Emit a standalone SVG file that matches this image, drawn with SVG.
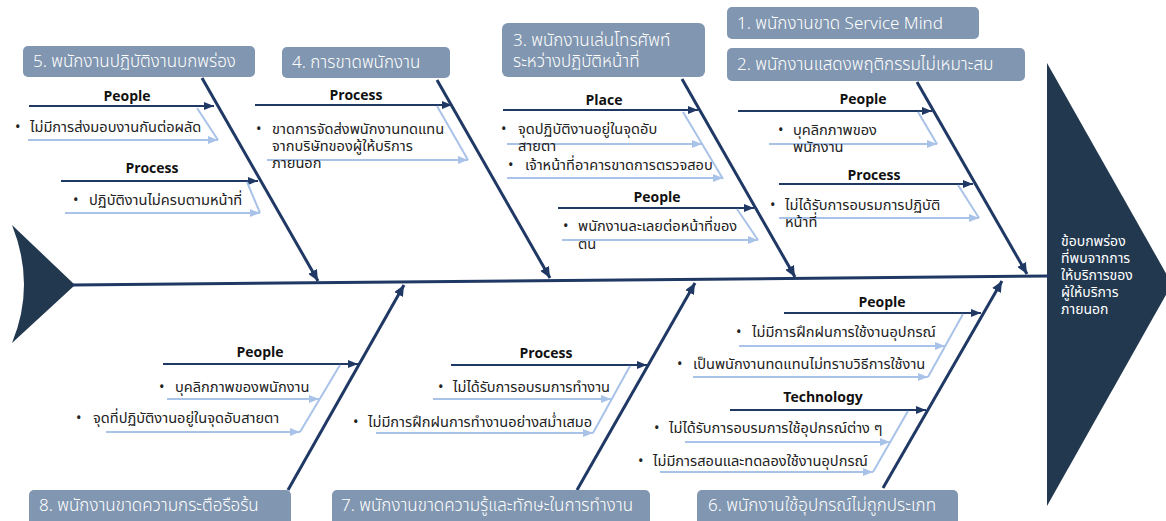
<svg xmlns="http://www.w3.org/2000/svg" width="1166" height="521" viewBox="0 0 1166 521">
<style>
text{font-family:"Noto Sans Thai","Noto Sans","Liberation Sans",sans-serif}
.box{fill:#8196B0}
.bt{fill:#fff;font-size:17px;font-weight:300}
.lab{font-size:14px;font-weight:bold;fill:#111;text-anchor:middle}
.tx{font-size:14.6px;fill:#222}
.ht{font-size:14px;fill:#fff}
.bone{stroke:#1F3864;stroke-width:3;fill:none;marker-end:url(#ab)}
.sub{stroke:#1F3864;stroke-width:2;fill:none;marker-end:url(#as)}
.lt{stroke:#A9C3E8;stroke-width:2;fill:none}
.la{stroke:#A9C3E8;stroke-width:2;fill:none;marker-end:url(#al)}
.dark{fill:#22384F}
</style>
<defs>
<marker id="ab" markerUnits="userSpaceOnUse" markerWidth="12" markerHeight="10" refX="11" refY="5" orient="auto"><path d="M0,0 L11,5 L0,10 z" fill="#1F3864"/></marker>
<marker id="as" markerUnits="userSpaceOnUse" markerWidth="11" markerHeight="8" refX="10" refY="4" orient="auto"><path d="M0,0 L10,4 L0,8 z" fill="#1F3864"/></marker>
<marker id="al" markerUnits="userSpaceOnUse" markerWidth="11" markerHeight="8" refX="10" refY="4" orient="auto"><path d="M0,0 L10,4 L0,8 z" fill="#A9C3E8"/></marker>
</defs>
<rect width="1166" height="521" fill="#fff"/>

<g id="tail"><path class="dark" d="M12,225 L75,285 L12,343 Q36,285 12,225 z"/></g>
<g id="effect">
<path class="dark" d="M1047,63 L1172,284 L1047,506 z"/>
<text class="ht" x="1061" y="246">ข้อบกพร่อง</text>
<text class="ht" x="1061" y="263">ที่พบจากการ</text>
<text class="ht" x="1061" y="280">ให้บริการของ</text>
<text class="ht" x="1061" y="297">ผู้ให้บริการ</text>
<text class="ht" x="1061" y="314">ภายนอก</text>
</g>

<g id="connectors">
<line x1="72" y1="285" x2="1050" y2="276" stroke="#1F3864" stroke-width="3"/>
<line class="bone" x1="202" y1="78" x2="318" y2="281"/>
<line class="bone" x1="437" y1="80" x2="550" y2="278"/>
<line class="bone" x1="682" y1="79" x2="795" y2="277"/>
<line class="bone" x1="917" y1="82" x2="1027" y2="274"/>
<line class="bone" x1="288" y1="490" x2="404" y2="285"/>
<line class="bone" x1="577" y1="490" x2="695" y2="283"/>
<line class="bone" x1="883" y1="488" x2="1002" y2="281"/>
<!-- branch 5 -->
<line class="sub" x1="29" y1="106" x2="214" y2="106"/>
<line class="lt" x1="197" y1="108" x2="218" y2="140"/>
<line class="la" x1="28" y1="140" x2="218" y2="140"/>
<line class="sub" x1="61" y1="181" x2="258" y2="181"/>
<line class="lt" x1="247" y1="182" x2="260" y2="213"/>
<line class="la" x1="65" y1="213" x2="260" y2="213"/>
<!-- branch 4 -->
<line class="sub" x1="255" y1="105" x2="452" y2="105"/>
<line class="lt" x1="437" y1="106" x2="468" y2="160"/>
<line class="la" x1="267" y1="160" x2="468" y2="160"/>
<!-- branch 3 -->
<line class="sub" x1="503" y1="110" x2="698" y2="110"/>
<line class="lt" x1="683" y1="112" x2="723" y2="179"/>
<line class="la" x1="507" y1="144" x2="702" y2="144"/>
<line class="la" x1="507" y1="178" x2="723" y2="178"/>
<line class="sub" x1="558" y1="208" x2="754" y2="208"/>
<line class="lt" x1="737" y1="209" x2="758" y2="240"/>
<line class="la" x1="562" y1="240" x2="758" y2="240"/>
<!-- branch 2 -->
<line class="sub" x1="738" y1="111" x2="932" y2="111"/>
<line class="lt" x1="918" y1="112" x2="937" y2="144"/>
<line class="la" x1="769" y1="144" x2="937" y2="144"/>
<line class="sub" x1="779" y1="184" x2="973" y2="184"/>
<line class="lt" x1="958" y1="185" x2="979" y2="218"/>
<line class="la" x1="779" y1="218" x2="979" y2="218"/>
<!-- branch 8 -->
<line class="sub" x1="163" y1="364" x2="358" y2="364"/>
<line class="lt" x1="340" y1="365" x2="300" y2="432"/>
<line class="la" x1="167" y1="399" x2="319" y2="399"/>
<line class="la" x1="106" y1="432" x2="300" y2="432"/>
<!-- branch 7 -->
<line class="sub" x1="451" y1="365" x2="647" y2="365"/>
<line class="lt" x1="630" y1="366" x2="593" y2="433"/>
<line class="la" x1="433" y1="399" x2="611" y2="399"/>
<line class="la" x1="376" y1="433" x2="593" y2="433"/>
<!-- branch 6 -->
<line class="sub" x1="784" y1="313" x2="981" y2="313"/>
<line class="lt" x1="963" y1="314" x2="928" y2="377"/>
<line class="la" x1="739" y1="346" x2="945" y2="346"/>
<line class="la" x1="693" y1="377" x2="928" y2="377"/>
<line class="sub" x1="730" y1="410" x2="926" y2="410"/>
<line class="lt" x1="908" y1="411" x2="873" y2="472"/>
<line class="la" x1="685" y1="442" x2="890" y2="442"/>
<line class="la" x1="660" y1="472" x2="873" y2="472"/>
</g>

<g id="cause1"><rect class="box" x="727" y="7" width="252" height="32" rx="5"/><text class="bt" x="737" y="29">1. พนักงานขาด Service Mind</text></g>
<g id="cause2"><rect class="box" x="727" y="48" width="298" height="33" rx="5"/><text class="bt" x="737" y="70">2. พนักงานแสดงพฤติกรรมไม่เหมาะสม</text></g>
<g id="cause3"><rect class="box" x="502" y="23" width="203" height="54" rx="6"/><text class="bt" x="513" y="46">3. พนักงานเล่นโทรศัพท์</text><text class="bt" x="513" y="67">ระหว่างปฏิบัติหน้าที่</text></g>
<g id="cause4"><rect class="box" x="282" y="47" width="168" height="31" rx="5"/><text class="bt" x="292" y="68">4. การขาดพนักงาน</text></g>
<g id="cause5"><rect class="box" x="23" y="46" width="232" height="31" rx="5"/><text class="bt" x="33" y="67">5. พนักงานปฏิบัติงานบกพร่อง</text></g>
<g id="cause6"><rect class="box" x="697" y="490" width="261" height="36" rx="5"/><text class="bt" x="708" y="511">6. พนักงานใช้อุปกรณ์ไม่ถูกประเภท</text></g>
<g id="cause7"><rect class="box" x="332" y="490" width="318" height="36" rx="5"/><text class="bt" x="341" y="511">7. พนักงานขาดความรู้และทักษะในการทำงาน</text></g>
<g id="cause8"><rect class="box" x="29" y="490" width="262" height="36" rx="5"/><text class="bt" x="39" y="511">8. พนักงานขาดความกระตือรือร้น</text></g>

<g id="detail5">
<text class="lab" x="127" y="101">People</text>
<text class="tx" x="15" y="132">•</text><text class="tx" x="30" y="132">ไม่มีการส่งมอบงานกันต่อผลัด</text>
<text class="lab" x="152" y="173">Process</text>
<text class="tx" x="73" y="205">•</text><text class="tx" x="89" y="205">ปฏิบัติงานไม่ครบตามหน้าที่</text>
</g>
<g id="detail4">
<text class="lab" x="356" y="100">Process</text>
<text class="tx" x="256" y="134">•</text><text class="tx" x="272" y="134">ขาดการจัดส่งพนักงานทดแทน</text>
<text class="tx" x="272" y="151">จากบริษัทของผู้ให้บริการ</text>
<text class="tx" x="272" y="168">ภายนอก</text>
</g>
<g id="detail3">
<text class="lab" x="604" y="105">Place</text>
<text class="tx" x="501" y="134">•</text><text class="tx" x="518" y="134">จุดปฏิบัติงานอยู่ในจุดอับ</text>
<text class="tx" x="518" y="151">สายตา</text>
<text class="tx" x="508" y="170">•</text><text class="tx" x="525" y="170">เจ้าหน้าที่อาคารขาดการตรวจสอบ</text>
<text class="lab" x="657" y="202">People</text>
<text class="tx" x="563" y="231">•</text><text class="tx" x="578" y="231">พนักงานละเลยต่อหน้าที่ของ</text>
<text class="tx" x="578" y="249">ตน</text>
</g>
<g id="detail2">
<text class="lab" x="863" y="104">People</text>
<text class="tx" x="778" y="135">•</text><text class="tx" x="793" y="135">บุคลิกภาพของ</text>
<text class="tx" x="793" y="152">พนักงาน</text>
<text class="lab" x="874" y="180">Process</text>
<text class="tx" x="770" y="210">•</text><text class="tx" x="785" y="210">ไม่ได้รับการอบรมการปฏิบัติ</text>
<text class="tx" x="785" y="227">หน้าที่</text>
</g>
<g id="detail8">
<text class="lab" x="260" y="357">People</text>
<text class="tx" x="159" y="392">•</text><text class="tx" x="175" y="392">บุคลิกภาพของพนักงาน</text>
<text class="tx" x="76" y="423">•</text><text class="tx" x="93" y="423">จุดที่ปฏิบัติงานอยู่ในจุดอับสายตา</text>
</g>
<g id="detail7">
<text class="lab" x="546" y="358">Process</text>
<text class="tx" x="438" y="392">•</text><text class="tx" x="453" y="392">ไม่ได้รับการอบรมการทำงาน</text>
<text class="tx" x="353" y="427">•</text><text class="tx" x="368" y="427">ไม่มีการฝึกฝนการทำงานอย่างสม่ำเสมอ</text>
</g>
<g id="detail6">
<text class="lab" x="882" y="307">People</text>
<text class="tx" x="736" y="337">•</text><text class="tx" x="752" y="337">ไม่มีการฝึกฝนการใช้งานอุปกรณ์</text>
<text class="tx" x="677" y="369">•</text><text class="tx" x="693" y="369">เป็นพนักงานทดแทนไม่ทราบวิธีการใช้งาน</text>
<text class="lab" x="823" y="402">Technology</text>
<text class="tx" x="654" y="433">•</text><text class="tx" x="669" y="433">ไม่ได้รับการอบรมการใช้อุปกรณ์ต่าง ๆ</text>
<text class="tx" x="638" y="466">•</text><text class="tx" x="653" y="466">ไม่มีการสอนและทดลองใช้งานอุปกรณ์</text>
</g>
</svg>
